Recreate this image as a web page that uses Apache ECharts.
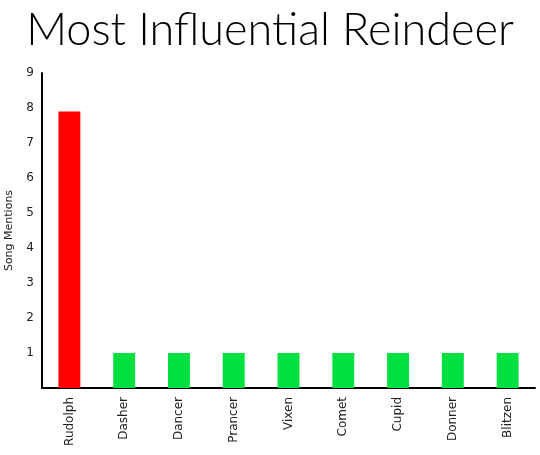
<!DOCTYPE html>
<html><head><meta charset="utf-8">
<script src="https://cdn.jsdelivr.net/npm/echarts@6/dist/echarts.min.js"></script>
<style>html,body{margin:0;padding:0;background:#fff}#c{width:540px;height:455px}</style>
</head><body><div id="c"></div>
<script>
const categories = ['Rudolph','Dasher','Dancer','Prancer','Vixen','Comet','Cupid','Donner','Blitzen'];
const mentions = [7.9,1,1,1,1,1,1,1,1];
const barColors = ['#ff0000','#00e040','#00e040','#00e040','#00e040','#00e040','#00e040','#00e040','#00e040'];
const yTicks = [0,1,2,3,4,5,6,7,8,9];

const chart = echarts.init(document.getElementById('c'));
chart.setOption({
  animation: false,
  title: {
    text: 'Most Influential Reindeer',
    left: 'center', top: 3,
    textStyle: {fontFamily: 'Lato', fontWeight: 300, fontSize: 45, color: '#000'}
  },
  grid: {left: 42, right: 5, top: 73, bottom: 67, containLabel: false, outerBoundsMode: 'none'},
  xAxis: {
    type: 'category', data: categories,
    axisLine: {lineStyle: {color: '#000', width: 2}},
    axisTick: {show: false},
    axisLabel: {rotate: 90, color: '#222', fontSize: 12, fontFamily: 'DejaVu Sans', margin: 9}
  },
  yAxis: {
    type: 'value', min: 0, max: 9, interval: 1,
    name: 'Song Mentions', nameLocation: 'middle', nameGap: 27,
    nameTextStyle: {fontSize: 11, color: '#222', fontFamily: 'DejaVu Sans'},
    axisLine: {show: true, lineStyle: {color: '#000', width: 2}},
    axisTick: {show: false},
    splitLine: {show: false},
    axisLabel: {color: '#222', fontSize: 12, fontFamily: 'DejaVu Sans', margin: 8,
      formatter: v => (v === 0 ? '' : String(yTicks[v]))}
  },
  series: [{
    type: 'bar', barWidth: '40%',
    data: mentions.map((v, i) => ({value: v, itemStyle: {color: barColors[i]}}))
  }]
});
</script></body></html>
